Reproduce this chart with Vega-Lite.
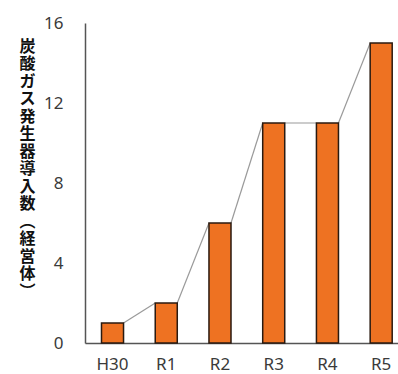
{
  "$schema": "https://vega.github.io/schema/vega-lite/v6.json",
  "width": 313,
  "height": 320,
  "autosize": {"type": "none"},
  "padding": {"left": 85, "top": 23, "right": 0, "bottom": 31},
  "background": "white",
  "config": {"view": {"stroke": null}},
  "data": {
    "values": [
      {"year": "H30", "count": 1},
      {"year": "R1", "count": 2},
      {"year": "R2", "count": 6},
      {"year": "R3", "count": 11},
      {"year": "R4", "count": 11},
      {"year": "R5", "count": 15}
    ]
  },
  "encoding": {
    "x": {
      "field": "year",
      "type": "nominal",
      "sort": null,
      "scale": {"paddingInner": 0.59, "paddingOuter": 0.2075, "align": 0.74},
      "axis": {
        "title": null,
        "labelAngle": 0,
        "ticks": false,
        "labelPadding": 13,
        "labelFont": "Noto Sans",
        "labelFontSize": 17,
        "labelColor": "#3a3a3a",
        "domainColor": "#555555",
        "domainWidth": 1.5
      }
    },
    "y": {
      "field": "count",
      "type": "quantitative",
      "scale": {"domain": [0, 16], "nice": false},
      "axis": {
        "values": [0, 4, 8, 12, 16],
        "grid": false,
        "ticks": false,
        "labelPadding": 22,
        "labelFont": "Noto Sans",
        "labelFontSize": 17,
        "labelColor": "#3a3a3a",
        "domainColor": "#555555",
        "domainWidth": 1.5,
        "title": ["炭", "酸", "ガ", "ス", "発", "生", "器", "導", "入", "数", "︵", "経", "営", "体", "︶"],
        "titleAngle": 0,
        "titleAlign": "center",
        "titleBaseline": "top",
        "titleX": -58,
        "titleY": 15,
        "titleFont": "Noto Sans CJK JP",
        "titleFontSize": 16,
        "titleFontWeight": "bold",
        "titleLineHeight": 17.5,
        "titleColor": "#111111"
      }
    }
  },
  "layer": [
    {
      "transform": [
        {"window": [
          {"op": "lead", "field": "year", "as": "next"},
          {"op": "lead", "field": "count", "as": "nextCount"}
        ]},
        {"filter": "datum.next != null"}
      ],
      "mark": {"type": "rule", "color": "#9a9a9a", "strokeWidth": 1.2, "xOffset": 11, "x2Offset": -11},
      "encoding": {
        "x2": {"field": "next"},
        "y2": {"field": "nextCount"}
      }
    },
    {
      "mark": {"type": "bar", "color": "#EE7222", "stroke": "#2a1a10", "strokeWidth": 1.5}
    }
  ]
}
